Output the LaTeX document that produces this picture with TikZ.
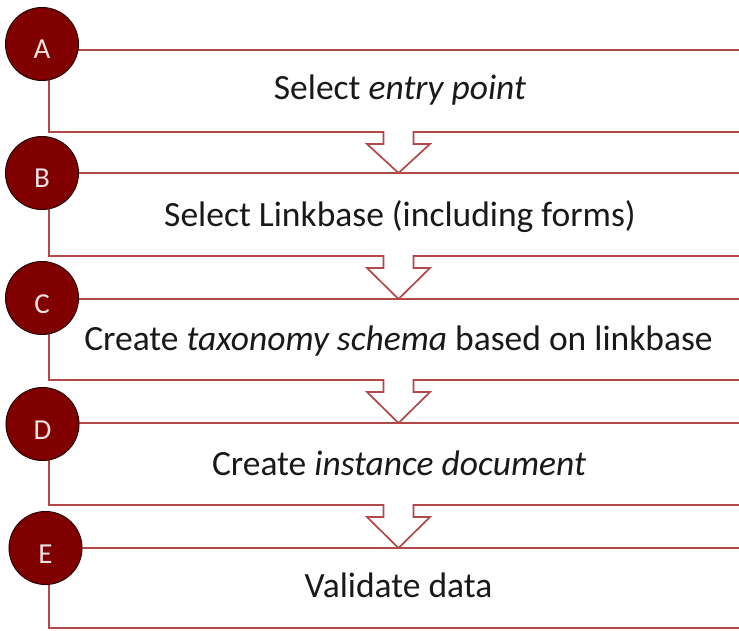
\documentclass[tikz,border=0pt]{standalone}
\usepackage{fontspec}
\setmainfont{Carlito}
\begin{document}
\begin{tikzpicture}[x=1pt,y=-1pt,
  frame/.style={draw={rgb,255:red,178;green,72;blue,72}, line width=1.7pt, line join=miter},
  badge/.style={circle, fill={rgb,255:red,128;green,0;blue,0}, draw={rgb,255:red,40;green,0;blue,0},
    line width=1pt, minimum size=73pt, inner sep=0pt},
  letter/.style={anchor=base, text={rgb,255:red,235;green,225;blue,225}, font=\fontsize{29}{29}\selectfont, inner sep=0pt},
  steptext/.style={anchor=base, text={rgb,255:red,25;green,25;blue,25}, font=\fontsize{35.5}{36}\selectfont, inner sep=0pt}]
\useasboundingbox (0,0) rectangle (739,631);
\clip (0,0) rectangle (739,631);

% box outlines; the bottom edge of each box turns into a hollow arrow
% whose tip rests on the top edge of the next box
\def\ax{398.5}
\foreach \t/\b/\n in {50/132/173, 173/256/299, 299/380/423, 423/505/548}{
  \draw[frame] (760,\t) -- (49,\t) -- (49,\b) -- (\ax-15,\b) -- (\ax-15,\b+12)
    -- (\ax-31.5,\b+12) -- (\ax,\n) -- (\ax+31.5,\b+12) -- (\ax+15,\b+12)
    -- (\ax+15,\b) -- (760,\b);
}
\draw[frame] (760,548) -- (49,548) -- (49,628) -- (760,628);

% step badges
\node[badge] (cA) at (42,44) {};
\node[badge] (cB) at (42,173) {};
\node[badge] (cC) at (42,298) {};
\node[badge] (cD) at (42.5,424) {};
\node[badge] (cE) at (45.5,548) {};
\foreach \c/\l in {cA/A, cB/B, cC/C, cD/D, cE/E}{
  \node[letter] (l\c) at ([yshift=-15pt]\c.center) {\l};
}

% step labels
\node[steptext] (tA) at (400,100) {Select \textit{entry point}};
\node[steptext] (tB) at (400,227) {Select Linkbase (including forms)};
\node[steptext] (tC) at (398.5,350) {Create \textit{taxonomy schema} based on linkbase};
\node[steptext] (tD) at (399,475) {Create \textit{instance document}};
\node[steptext] (tE) at (398.5,597) {Validate data};
\end{tikzpicture}
\end{document}
